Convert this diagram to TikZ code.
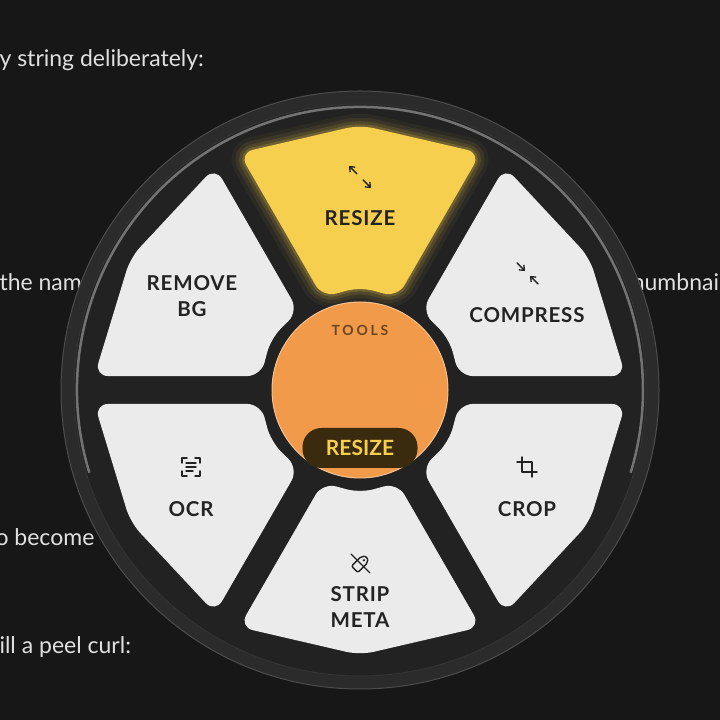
\documentclass[tikz,border=0pt]{standalone}
\usepackage{fontspec}
\setmainfont{Lato}
\usetikzlibrary{arrows.meta,calc}
\definecolor{bgdark}{HTML}{171717}
\definecolor{rim}{HTML}{2B2B2B}
\definecolor{wheel}{HTML}{222222}
\definecolor{seg}{HTML}{EBEBEB}
\definecolor{segon}{HTML}{F7CF4E}
\definecolor{hub}{HTML}{F09A4A}
\definecolor{pill}{HTML}{3A2A0E}
\definecolor{ink}{HTML}{232323}

\begin{document}
\begin{tikzpicture}[
    x=1pt, y=1pt,
    bgtext/.style={anchor=west, text=white!88!black, font=\fontsize{23}{25}\selectfont},
    lbl/.style={text=ink, font=\bfseries\fontsize{20.5}{26}\selectfont\addfontfeature{LetterSpace=4}, align=center},
    icon/.style={draw=ink, line width=1.4pt, line cap=round, line join=round},
    tip/.style={-{Straight Barb[length=4pt,width=7pt]}}
]
\useasboundingbox (0,0) rectangle (720,720);
\fill[bgdark] (0,0) rectangle (720,720);
\begin{scope}[shift={(0,720)}, yscale=-1]
    \clip (0,0) rectangle (720,720);
    % page text behind the menu
    \node[bgtext] (line1) at (-4,60) {y string deliberately:};
    \node[bgtext] (line2) at (-4,282) {the name};
    \node[bgtext] (line3) at (620,282) {thumbnail};
    \node[bgtext] (line4) at (-8,537) {o become};
    \node[bgtext] (line5) at (-4,647) {ill a peel curl:};

    % wheel body
    \coordinate (c) at (360,390);
    \fill[rim, draw=white!30!black, line width=1pt] (c) circle (299);
    \fill[wheel] (c) circle (286);
    \draw[white!45!black, line width=2.5pt] ($(c)+(-197:283)$) arc[start angle=-197, end angle=17, radius=283];
    \draw[white!20!black, line width=1pt] (c) circle (286);

    % glow of the active segment
    \foreach \w/\o in {26/0.05,18/0.08,11/0.12,5/0.18}
        \draw[segon, line width=\w pt, opacity=\o, rounded corners=14]
            ($(c)+(-112:100)$) -- ($(c)+(-117:266)$) -- ($(c)+(-90:265)$)
            -- ($(c)+(-63:266)$) -- ($(c)+(-68:100)$) -- ($(c)+(-90:103)$) -- cycle;

    % segments
    \foreach \a/\col in {-90/segon,-30/seg,30/seg,90/seg,150/seg,210/seg}
        \fill[\col, rounded corners=14]
            ($(c)+(\a-22:100)$) -- ($(c)+(\a-27:266)$) -- ($(c)+(\a:265)$)
            -- ($(c)+(\a+27:266)$) -- ($(c)+(\a+22:100)$) -- ($(c)+(\a:103)$) -- cycle;

    % hub
    \fill[hub, draw=hub!60!white, line width=1pt] (c) circle (88);
    \node[text=hub!45!black, font=\bfseries\fontsize{14}{15}\selectfont\addfontfeature{LetterSpace=20}] (tools) at (360,330) {TOOLS};
    \node[fill=pill, rounded corners=19, minimum width=115, minimum height=40, text=segon,
        font=\bfseries\fontsize{21}{22}\selectfont] (current) at (360,448) {RESIZE};

    % labels
    \node[lbl] (resize) at (360,218) {RESIZE};
    \node[lbl] (compress) at (527,315) {COMPRESS};
    \node[lbl] (crop) at (527,509) {CROP};
    \node[lbl] (strip) at (360,607) {STRIP\\META};
    \node[lbl] (ocr) at (191,509) {OCR};
    \node[lbl] (removebg) at (192,296) {REMOVE\\BG};

    % icons
    \draw[icon, tip] (357,174) -- (349,166);
    \draw[icon, tip] (363,180) -- (371,188);
    \draw[icon, tip] (517,263) -- (525,271);
    \draw[icon, tip] (538,284) -- (530,276);
    \draw[icon] (517,462) -- (532,462) -- (532,477);
    \draw[icon] (522,457) -- (522,472) -- (537,472);
    \draw[icon] (182,463) -- (182,458) -- (187,458) (195,458) -- (200,458) -- (200,463)
        (200,471) -- (200,476) -- (195,476) (187,476) -- (182,476) -- (182,471);
    \draw[icon] (186,463) -- (196,463) (186,467) -- (196,467) (186,471) -- (193,471);
    \begin{scope}[shift={(361,563)}, rotate=-45]
        \draw[icon, rounded corners=2] (-9,-4.5) -- (5,-4.5) -- (9,0) -- (5,4.5) -- (-9,4.5) -- cycle;
        \fill[ink] (4,0) circle (1.3);
    \end{scope}
    \draw[icon] (351,554) -- (370,573);
\end{scope}
\end{tikzpicture}
\end{document}
